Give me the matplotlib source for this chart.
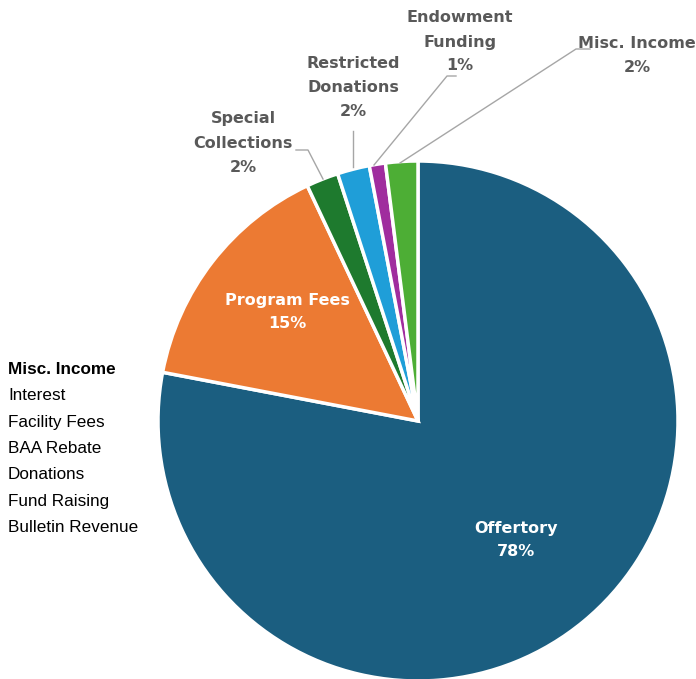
import matplotlib
matplotlib.use("Agg")
import matplotlib.pyplot as plt

# income breakdown (percent of total)
categories = ["Offertory", "Program Fees", "Special\nCollections",
              "Restricted\nDonations", "Endowment\nFunding", "Misc. Income"]
shares = [78, 15, 2, 2, 1, 2]
colors = ["#1b5e80", "#ec7a33", "#1e7a2e", "#1f9ed8", "#a02d9e", "#4dae35"]

misc_items = ["Interest", "Facility Fees", "BAA Rebate", "Donations",
              "Fund Raising", "Bulletin Revenue"]

W, H = 696, 679
fig = plt.figure(figsize=(W / 100, H / 100), dpi=100)
ax = fig.add_axes([0, 0, 1, 1])
ax.set_xlim(0, W)
ax.set_ylim(0, H)
ax.set_aspect("equal")
ax.axis("off")

cx, cy, r = 418, H - 421, 260
wedges, _ = ax.pie(shares, colors=colors, startangle=90, counterclock=False,
                   center=(cx, cy), radius=r,
                   wedgeprops=dict(edgecolor="white", linewidth=2.5))
ax.set_xlim(0, W)
ax.set_ylim(0, H)

lbl = dict(fontfamily="DejaVu Sans", fontweight="bold", fontsize=11.5,
           ha="center", va="center", linespacing=1.75)
grey = "#595959"

# labels inside the two big slices
ax.text(516, H - 540, f"{categories[0]}\n{shares[0]}%", color="white", **lbl)
ax.text(287, H - 312, f"{categories[1]}\n{shares[1]}%", color="white", **lbl)

# outside labels for the small slices
ax.text(243, H - 143, f"{categories[2]}\n{shares[2]}%", color=grey, **lbl)
ax.text(353, H - 88, f"{categories[3]}\n{shares[3]}%", color=grey, **lbl)
ax.text(460, H - 42, f"{categories[4]}\n{shares[4]}%", color=grey, **lbl)
ax.text(637, H - 55, f"{categories[5]}\n{shares[5]}%", color=grey, **lbl)

# leader lines
leaders = [
    ([296, 308, 323], [150, 150, 179]),
    ([353, 353], [131, 167]),
    ([456, 447, 374], [76, 76, 165]),
    ([590, 576, 400], [49, 49, 163]),
]
for xs, ys in leaders:
    ax.plot(xs, [H - y for y in ys], color="#a6a6a6", lw=1)

# side note listing what misc. income covers
side = dict(fontfamily="Liberation Sans", fontsize=12.3, va="center",
            ha="left", color="black")
ax.text(8, H - 369, "Misc. Income", fontweight="bold", **side)
for i, item in enumerate(misc_items):
    ax.text(8, H - 396 - 26.3 * i, item, **side)

fig.savefig("out.png", dpi=100, facecolor="white")
